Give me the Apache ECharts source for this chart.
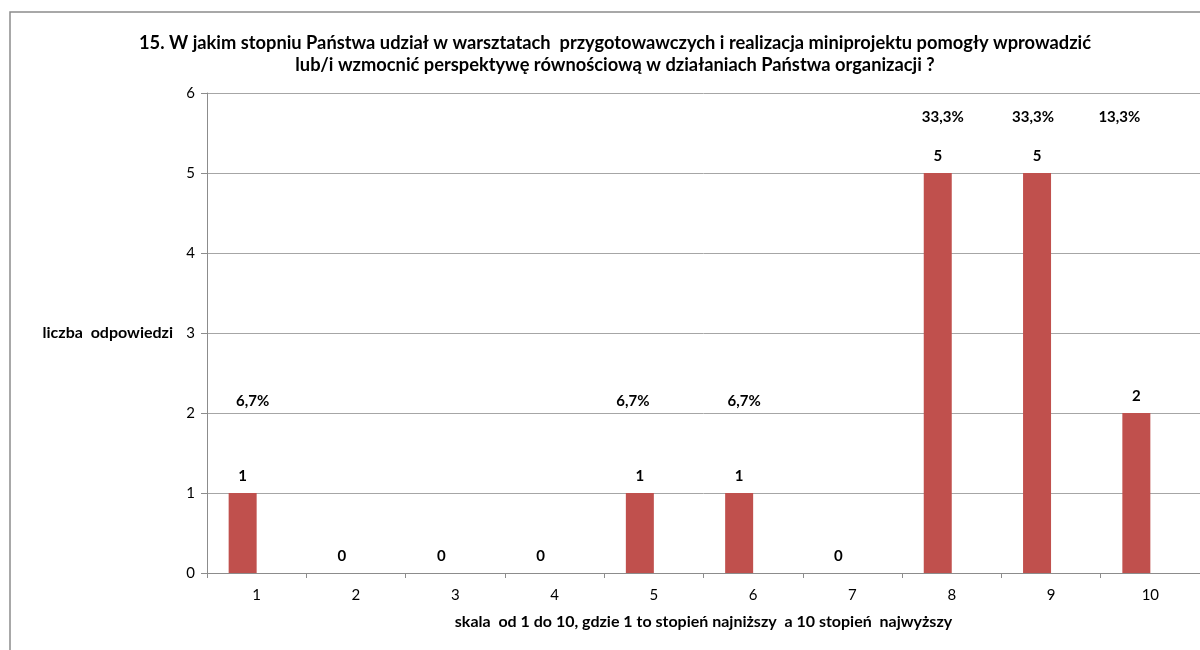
<!DOCTYPE html>
<html>
<head>
<meta charset="utf-8">
<script src="https://cdn.jsdelivr.net/npm/echarts@6/dist/echarts.min.js"></script>
<style>html,body{margin:0;padding:0;background:#fff}#c{width:1200px;height:650px}</style>
</head>
<body>
<div id="c"></div>
<script>
const categories = ['1','2','3','4','5','6','7','8','9','10'];
const counts = [1,0,0,0,1,1,0,5,5,2];
const percentLabels = ['6,7%','','','','6,7%','6,7%','','33,3%','33,3%','13,3%'];
const yTicks = [0,1,2,3,4,5,6];

const titleText = '15. W jakim stopniu Państwa udział w warsztatach  przygotowawczych i realizacja miniprojektu pomogły wprowadzić\nlub/i wzmocnić perspektywę równościową w działaniach Państwa organizacji ?';
const xName = 'skala  od 1 do 10, gdzie 1 to stopień najniższy  a 10 stopień  najwyższy';
const yName = 'liczba  odpowiedzi';

// label placement (layout only)
const pctLevel = [2.15,0,0,0,2.15,2.15,0,5.7,5.7,5.7];
const pctOffsetX = [-4,0,0,0,-21,-9,0,-9,-18,-31];

const FONT = 'Lato, "Open Sans", sans-serif';
const lbl = {fontFamily:FONT, fontSize:15, fontWeight:'bold', color:'#000'};
const chart = echarts.init(document.getElementById('c'));
const pctData = [];
percentLabels.forEach((p,i)=>{
  if(p) pctData.push({value:[i,pctLevel[i]], label:Object.assign({show:true, position:'inside', formatter:p, offset:[pctOffsetX[i],0]}, lbl)});
});
chart.setOption({
  animation:false,
  backgroundColor:'#fff',
  graphic:[{type:'rect', shape:{x:10,y:12,width:1400,height:800}, style:{fill:'none', stroke:'#8c8c8c', lineWidth:1.5}, silent:true}],
  title:{text:titleText, left:610, top:27, textAlign:'center',
    textStyle:{fontFamily:FONT, fontSize:18.3, fontWeight:'bold', color:'#000', lineHeight:22}},
  grid:{left:207, right:0, top:93, bottom:77, containLabel:false},
  xAxis:{type:'category', data:categories, name:xName, nameLocation:'middle', nameGap:41,
    nameTextStyle:{fontFamily:FONT, fontSize:16, fontWeight:'bold', color:'#000'},
    axisLine:{lineStyle:{color:'#8c8c8c', width:1}},
    axisTick:{show:true, alignWithLabel:false, length:5, lineStyle:{color:'#8c8c8c'}},
    axisLabel:{fontFamily:FONT, fontSize:15, color:'#000', margin:15}},
  yAxis:{type:'value', min:yTicks[0], max:yTicks[yTicks.length-1], interval:1,
    name:yName, nameLocation:'middle', nameRotate:0, nameGap:34,
    nameTextStyle:{fontFamily:FONT, fontSize:16, fontWeight:'bold', color:'#000', align:'right'},
    axisLine:{show:true, lineStyle:{color:'#8c8c8c', width:1}},
    axisTick:{show:true, length:6, lineStyle:{color:'#8c8c8c'}},
    axisLabel:{fontFamily:FONT, fontSize:15, color:'#000', margin:12},
    splitLine:{lineStyle:{color:'#a6a6a6', width:1}}},
  series:[
    {type:'bar', data:counts, barWidth:28, barGap:'0%', itemStyle:{color:'#c0504d'},
      label:Object.assign({show:true, position:'top', distance:9}, lbl)},
    {type:'bar', data:counts.map(()=>null), barWidth:28, silent:true},
    {type:'scatter', data:pctData, symbolSize:0, silent:true, itemStyle:{opacity:1},
      label:Object.assign({show:true, position:'inside'}, lbl)}
  ]
});
</script>
</body>
</html>
